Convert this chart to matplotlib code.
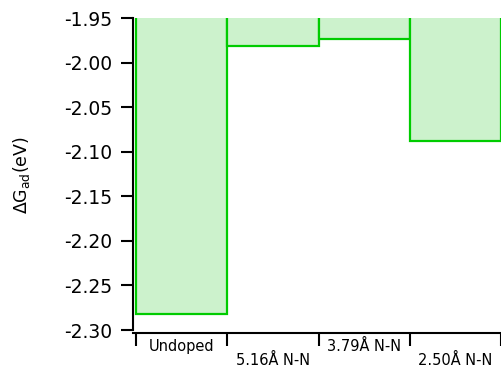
import numpy as np
import matplotlib
matplotlib.use('Agg')
import matplotlib.pyplot as plt
from matplotlib.ticker import FormatStrFormatter, MultipleLocator
from matplotlib.transforms import blended_transform_factory, offset_copy

# adsorption free energy for each doping configuration
configs = ['Undoped', '5.16Å N-N', '3.79Å N-N', '2.50Å N-N']
dG_ad = [-2.282, -1.981, -1.973, -2.088]

W, H = 501, 367
fig = plt.figure(figsize=(W / 100, H / 100), dpi=100)
ax = fig.add_axes([133 / W, 1 - 330 / H, (W - 133) / W, (330 - 18) / H])

pos = np.arange(len(configs))
ax.bar(pos, dG_ad, width=1.0, align='edge', color='#ccf2cc',
       edgecolor='#00cc00', linewidth=1.6, zorder=2)

ax.set_ylim(-2.30, -1.95)
ax.set_xlim(-0.035, len(configs))
ax.yaxis.set_major_locator(MultipleLocator(0.05))
ax.yaxis.set_major_formatter(FormatStrFormatter('%.2f'))

for s in ['top', 'right']:
    ax.spines[s].set_visible(False)
ax.spines['bottom'].set_position(('outward', 2))
for s in ['left', 'bottom']:
    ax.spines[s].set_linewidth(1.5)
    ax.spines[s].set_color('black')

ax.set_xticks(np.arange(len(configs) + 1))
ax.set_xticklabels([])
ax.tick_params(axis='x', direction='out', length=9.5, width=1.5)
ax.tick_params(axis='y', direction='out', length=9, width=1.5,
               labelsize=13.5, pad=6)

# alternate the category labels on two rows
trans = blended_transform_factory(ax.transData, ax.transAxes)
for i, name in enumerate(configs):
    dy = -9 if i % 2 == 0 else -23
    t = offset_copy(trans, fig=fig, x=0, y=dy, units='dots')
    ax.text(i + 0.5, 0, name, transform=t, ha='center', va='top',
            fontsize=10.5, clip_on=False)

fig.text(22 / W, 1 - 175 / H, r'$\Delta$G$_{\mathregular{ad}}$(eV)',
         rotation=90, ha='center', va='center', fontsize=12.5)

fig.savefig('out.png', dpi=100)
